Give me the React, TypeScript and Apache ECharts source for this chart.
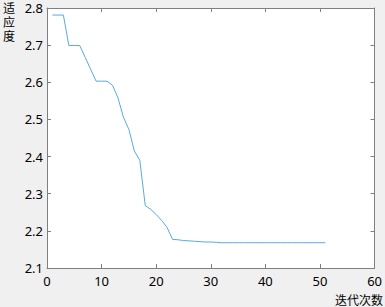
import React, { useEffect, useRef } from "react";
import * as echarts from "echarts";

const iterations: number[] = [
  1, 2, 3, 4, 5, 6, 7, 8, 9, 10, 11, 12, 13, 14, 15, 16, 17, 18, 19, 20, 21, 22, 23, 24, 25, 26,
  27, 28, 29, 30, 31, 32, 33, 34, 35, 36, 37, 38, 39, 40, 41, 42, 43, 44, 45, 46, 47, 48, 49, 50, 51,
];
const fitness: number[] = [
  2.781, 2.781, 2.781, 2.699, 2.699, 2.699, 2.667, 2.635, 2.603, 2.603, 2.603, 2.592, 2.558, 2.506,
  2.473, 2.415, 2.39, 2.268, 2.258, 2.244, 2.228, 2.209, 2.177, 2.176, 2.174, 2.173, 2.172, 2.171,
  2.17, 2.17, 2.169, 2.168, 2.168, 2.168, 2.168, 2.168, 2.168, 2.168, 2.168, 2.168, 2.168, 2.168,
  2.168, 2.168, 2.168, 2.168, 2.168, 2.168, 2.168, 2.168, 2.168,
];
const yTitle = "适应度";
const xTitle = "迭代次数";

const FONT = "'Noto Sans', sans-serif";
const CJK = "'Noto Sans CJK SC', sans-serif";
const AXIS_COLOR = "#7f7f7f";

export default function App() {
  const ref = useRef<HTMLDivElement>(null);
  useEffect(() => {
    if (!ref.current) return;
    const chart = echarts.init(ref.current, undefined, { renderer: "svg" });
    const axisCommon = {
      axisLine: { show: true, onZero: false, lineStyle: { color: AXIS_COLOR, width: 1 } },
      axisTick: { show: true, inside: true, length: 4, lineStyle: { color: AXIS_COLOR } },
      splitLine: { show: false },
    };
    chart.setOption({
      animation: false,
      backgroundColor: "#f0f0f0",
      grid: {
        left: 47,
        right: 7,
        top: 8,
        bottom: 39,
        show: true,
        backgroundColor: "#ffffff",
        borderWidth: 0,
      },
      xAxis: [
        {
          type: "value",
          min: 0,
          max: 60,
          interval: 10,
          position: "bottom",
          ...axisCommon,
          axisLabel: { color: "#000", fontSize: 13, lineHeight: 13, fontFamily: FONT, margin: 6 },
        },
        {
          type: "value",
          min: 0,
          max: 60,
          interval: 10,
          position: "top",
          ...axisCommon,
          axisLabel: { show: false },
        },
      ],
      yAxis: [
        {
          type: "value",
          min: 2.1,
          max: 2.8,
          interval: 0.1,
          position: "left",
          ...axisCommon,
          axisLabel: {
            color: "#000",
            fontSize: 13,
            lineHeight: 12,
            fontFamily: FONT,
            margin: 4,
            formatter: (v: number) => v.toFixed(1),
          },
        },
        {
          type: "value",
          min: 2.1,
          max: 2.8,
          interval: 0.1,
          position: "right",
          ...axisCommon,
          axisLabel: { show: false },
        },
      ],
      graphic: [
        ...yTitle.split("").map((ch, i) => ({
          type: "text",
          left: 3,
          top: 1 + i * 14,
          style: { text: ch, fontSize: 12, lineHeight: 12, fontFamily: CJK, fill: "#000" },
        })),
        {
          type: "text",
          right: 2,
          bottom: 2,
          style: { text: xTitle, fontSize: 12, lineHeight: 12, fontFamily: CJK, fill: "#000" },
        },
      ],
      series: [
        {
          type: "line",
          xAxisIndex: 0,
          yAxisIndex: 0,
          data: iterations.map((x, i) => [x, fitness[i]]),
          showSymbol: false,
          symbol: "none",
          lineStyle: { color: "#5aa9e0", width: 1 },
        },
      ],
    });
    return () => chart.dispose();
  }, []);
  return (
    <div
      ref={ref}
      style={{ position: "fixed", left: 0, top: 0, width: 385, height: 307 }}
    />
  );
}
